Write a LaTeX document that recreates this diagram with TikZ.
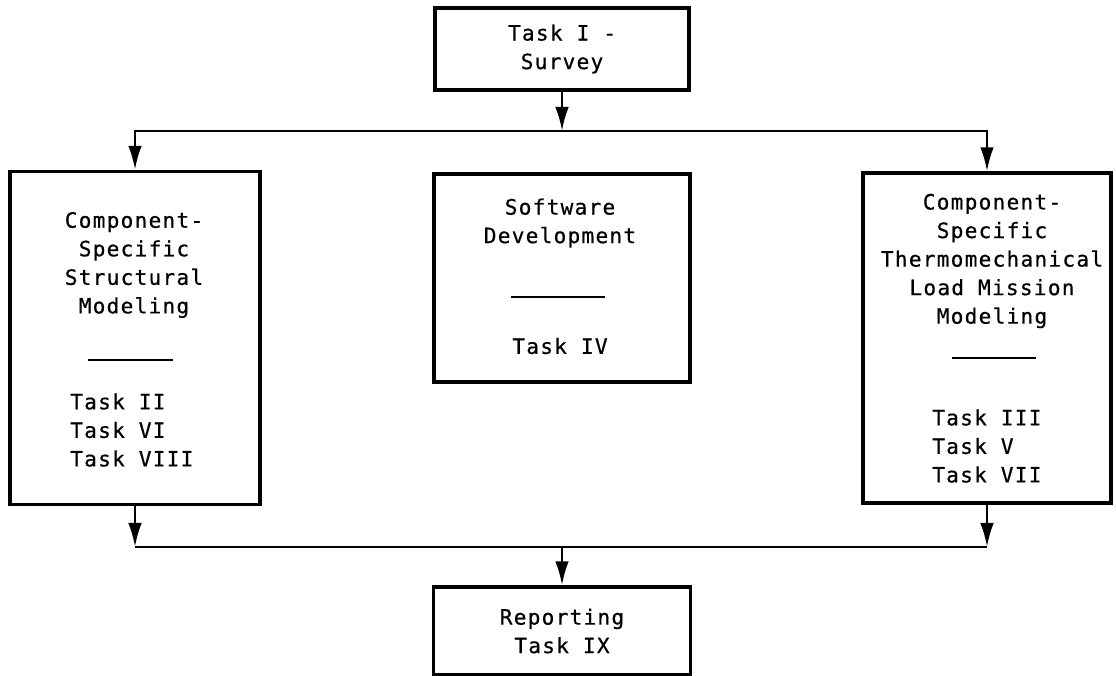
\documentclass[tikz,border=0pt]{standalone}
\usepackage{fontspec}
\usepackage{tikz}
\usetikzlibrary{arrows.meta}
\newfontfamily\typewriter[LetterSpace=6,FakeBold=0.6]{DejaVu Sans Mono}
\tikzstyle{box} = [rectangle, draw=black, line width=2.4pt, inner sep=0pt, align=center]
\tikzstyle{txt} = [inner sep=0pt]
\tikzstyle{bar} = [line width=1.8pt]
\tikzstyle{arrow} = [line width=1.8pt,-{Latex[length=6mm,width=3.4mm]}]

\begin{document}
\begin{tikzpicture}
			[x=0.025cm,y=-0.025cm,nodes={font=\typewriter\fontsize{15pt}{20.3pt}\selectfont}]
			\useasboundingbox (0,0) rectangle (1116,676);
			% boxes
			\node (survey) [box,minimum width=6.35cm,minimum height=2.05cm] at (562,49) {Task I -\\Survey};
			\node (struct) [box,minimum width=6.25cm,minimum height=8.325cm] at (135,338) {};
			\node (soft) [box,minimum width=6.4cm,minimum height=5.2cm] at (562,278) {};
			\node (load) [box,minimum width=6.2cm,minimum height=8.25cm] at (987,338) {};
			\node (report) [box,minimum width=6.425cm,minimum height=2.2cm] at (562,631) {Reporting\\Task IX};
			% box contents
			\node (structtitle) [txt,align=center] at (134,265) {Component-\\Specific\\Structural\\Modeling};
			\draw [bar] (88,360) -- (173,360);
			\node (structtasks) [txt,align=left,anchor=west] at (70,430) {Task II\\Task VI\\Task VIII};
			\node (softtitle) [txt,align=center] at (560,223) {Software\\Development};
			\draw [bar] (511,297) -- (605,297);
			\node (softtask) [txt] at (560,346) {Task IV};
			\node (loadtitle) [txt,align=center] at (992,261) {Component-\\Specific\\Thermomechanical\\Load Mission\\Modeling};
			\draw [bar] (952,358) -- (1036,358);
			\node (loadtasks) [txt,align=left,anchor=west] at (932,446) {Task III\\Task V\\Task VII};
			% connectors
			\coordinate (split) at (562,131);
			\coordinate (join) at (562,547);
			\draw [arrow] (survey) -- (split);
			\draw [arrow] (split) -| (struct.north);
			\draw [arrow] (split) -| (load.north);
			\draw [arrow] (struct.south) -- (struct.south |- join);
			\draw [arrow] (load.south) -- (load.south |- join);
			\draw [line width=1.8pt] (struct.south |- join) -- (load.south |- join);
			\draw [arrow] (join) -- (report);
		\end{tikzpicture}
\end{document}
